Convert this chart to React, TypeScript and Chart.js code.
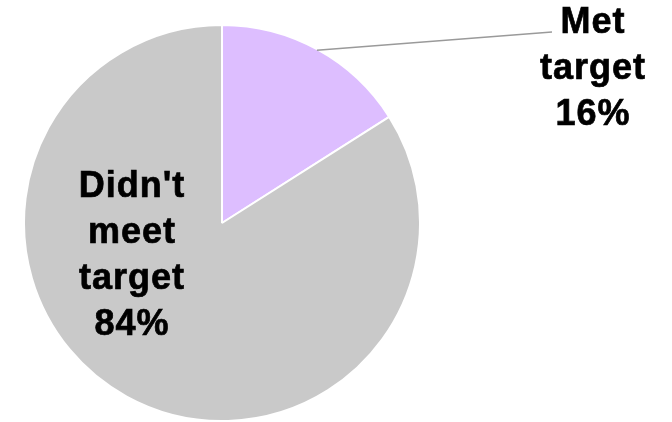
import React, { useEffect, useRef } from "react";
import { Chart, registerables } from "chart.js";

Chart.register(...registerables);

const categories = ["Met target", "Didn't meet target"];
const values = [16, 84];
const colors = ["#DDBEFF", "#C9C9C9"];

const FONT = "bold 36px 'Liberation Sans', Arial, sans-serif";

const labelPlugin = {
  id: "pieLabels",
  afterDraw(chart: any) {
    const ctx = chart.ctx as CanvasRenderingContext2D;
    const meta = chart.getDatasetMeta(0);
    const arc0 = meta.data[0] as any;
    const cx = arc0.x;
    const cy = arc0.y;
    const r = arc0.outerRadius;
    ctx.save();
    // leader line for first slice
    const mid = (arc0.startAngle + arc0.endAngle) / 2;
    const sx = cx + Math.cos(mid) * r * 0.995;
    const sy = cy + Math.sin(mid) * r * 0.995;
    ctx.strokeStyle = "#9A9A9A";
    ctx.lineWidth = 1.5;
    ctx.beginPath();
    ctx.moveTo(sx, sy);
    ctx.lineTo(552, 32);
    ctx.stroke();

    ctx.fillStyle = "#000";
    ctx.strokeStyle = "#000";
    ctx.lineWidth = 0.7;
    ctx.font = FONT;
    (ctx as any).letterSpacing = "1px";
    ctx.textAlign = "center";
    ctx.textBaseline = "alphabetic";
    const draw = (t: string, x: number, y: number) => {
      ctx.fillText(t, x, y);
      ctx.strokeText(t, x, y);
    };
    const lines0 = [...categories[0].split(" "), values[0] + "%"];
    lines0.forEach((t, i) => draw(t, 593, 33 + i * 46));
    const lines1 = ["Didn't", "meet", "target", values[1] + "%"];
    lines1.forEach((t, i) => draw(t, 132, 197 + i * 46));
    ctx.restore();
  },
};

export default function App() {
  const ref = useRef<HTMLCanvasElement>(null);
  useEffect(() => {
    const chart = new Chart(ref.current!, {
      type: "pie",
      data: {
        labels: categories,
        datasets: [
          {
            data: values,
            backgroundColor: colors,
            borderColor: "#FFFFFF",
            borderWidth: 2,
          },
        ],
      },
      options: {
        responsive: false,
        animation: false,
        layout: { padding: { left: 23, top: 24, right: 251, bottom: 0 } },
        plugins: { legend: { display: false }, tooltip: { enabled: false } },
      },
      plugins: [labelPlugin],
    });
    return () => chart.destroy();
  }, []);
  return (
    <div style={{ position: "fixed", left: 0, top: 0, width: 672, height: 422, background: "#fff" }}>
      <canvas ref={ref} width={672} height={422} />
    </div>
  );
}
